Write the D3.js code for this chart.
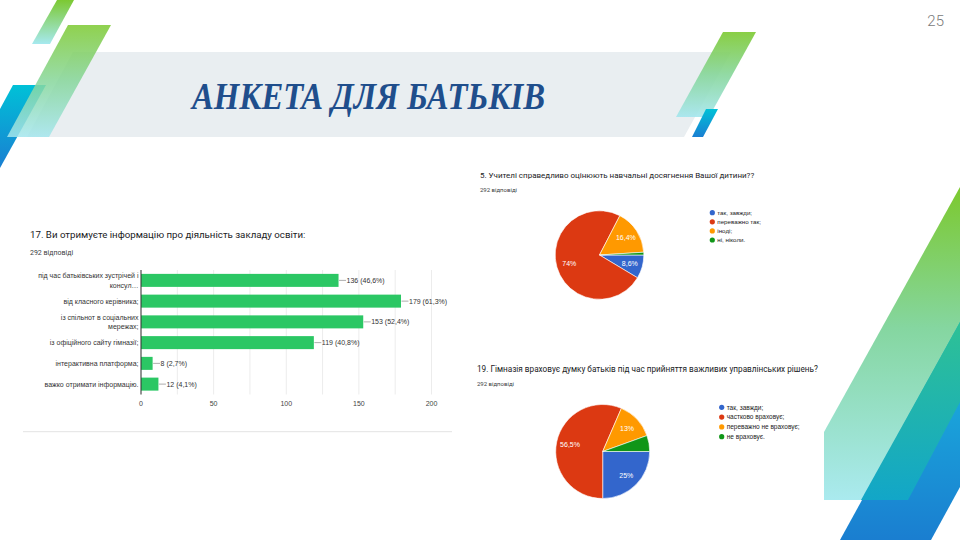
<!DOCTYPE html>
<html><head><meta charset="utf-8">
<script src="https://cdn.jsdelivr.net/npm/d3@7"></script>
<style>body{margin:0;background:#fff}svg{display:block}</style>
</head><body><svg id="c" width="960" height="540"></svg>
<script>
const slideTitle = "АНКЕТА ДЛЯ БАТЬКІВ";
const pageNumber = "25";
const responsesText = "292 відповіді";
const totalResponses = 292;

const barQuestion = "17. Ви отримуєте інформацію про діяльність закладу освіти:";
const barCategories = [
  ["під час батьківських зустрічей і", "консул…"],
  ["від класного керівника;"],
  ["із спільнот в соціальних", "мережах;"],
  ["із офіційного сайту гімназії;"],
  ["інтерактивна платформа;"],
  ["важко отримати інформацію."]
];
const barValues = [136, 179, 153, 119, 8, 12];
const barTicks = [0, 50, 100, 150, 200];

const pie1Question = "5. Учителі справедливо оцінюють навчальні досягнення Вашої дитини??";
const pie1Labels = ["так, завжди;", "переважно так;", "іноді;", "ні, ніколи."];
const pie1Values = [8.6, 74, 16.4, 1.0];

const pie2Question = "19. Гімназія враховує думку батьків під час прийняття важливих управлінських рішень?";
const pie2Labels = ["так, завжди;", "частково враховує;", "переважно не враховує;", "не враховує."];
const pie2Values = [25, 56.5, 13, 5.5];

const pieColors = ["#3366cc", "#dc3912", "#ff9900", "#109618"];

const svg = d3.select("#c");
const defs = svg.append("defs");
function grad(id, stops, y1, y2) {
  const g = defs.append("linearGradient").attr("id", id)
    .attr("gradientUnits", "userSpaceOnUse")
    .attr("x1", 0).attr("x2", 0).attr("y1", y1).attr("y2", y2);
  stops.forEach(s => g.append("stop").attr("offset", s[0]).attr("stop-color", s[1]));
}
grad("gStripeTop", [[0, "#7cc932"], [1, "#a6e9ef"]], 0, 44);
grad("gStripeBig", [[0, "#7cc930"], [0.5, "#86d69a"], [1, "#a4e6ee"]], 25, 137);
grad("gBlueLeft", [[0, "#00c1d7"], [1, "#1a7fd2"]], 85, 168);
grad("gStripeRight", [[0, "#7cc930"], [0.5, "#86d69a"], [1, "#a4e6ee"]], 32, 117);
grad("gBlueSmall", [[0, "#00c1d7"], [1, "#1a7fd2"]], 109, 137);
grad("gLightBR", [[0, "#7cc92e"], [0.45, "#85d6a0"], [1, "#aaeaef"]], 187, 500);
grad("gBlueBR", [[0, "#16b2d8"], [0.4, "#1aa3da"], [1, "#1a7ed0"]], 322, 540);
grad("gTealBR", [[0, "#2ec195"], [1, "#12a6c8"]], 322, 500);

const poly = (pts, fill, op) => svg.append("polygon")
  .attr("points", pts.map(p => p.join(",")).join(" "))
  .attr("fill", fill).attr("opacity", op == null ? 1 : op);

// title band
poly([[73, 52], [731, 52], [684, 137], [27, 137]], "#e9eef1");
// left decorations
poly([[57, 0], [74, 0], [50, 44], [32, 44]], "url(#gStripeTop)");
poly([[13, 85], [46, 85], [0, 168], [0, 109]], "url(#gBlueLeft)");
poly([[68, 25], [111, 25], [49, 137], [7, 137]], "url(#gStripeBig)", 0.85);
// right of title decorations
poly([[723, 32], [756, 32], [709, 117], [676, 117]], "url(#gStripeRight)", 0.9);
poly([[706, 109], [718, 109], [703, 137], [692, 137]], "url(#gBlueSmall)");
// bottom-right decorations
poly([[960, 187], [824, 432], [824, 500], [908, 500], [960, 402]], "url(#gLightBR)");
poly([[960, 322], [840, 540], [931, 540], [960, 487]], "url(#gBlueBR)");
poly([[960, 322], [861, 500], [908, 500], [960, 402]], "url(#gTealBR)");

// page number
svg.append("text").attr("x", 944).attr("y", 26).attr("text-anchor", "end")
  .attr("font-family", "Roboto").attr("font-weight", 300).attr("font-size", 15)
  .attr("fill", "#7a7a7a").text(pageNumber);

// slide title
svg.append("text").attr("x", 192).attr("y", 109)
  .attr("font-family", "Liberation Serif").attr("font-weight", "bold").attr("font-style", "italic")
  .attr("font-size", 37).attr("fill", "#1f4e8c")
  .attr("textLength", 353).attr("lengthAdjust", "spacingAndGlyphs").text(slideTitle);

// ---------- bar chart ----------
const fmtPct = v => {
  const r = Math.round(v * 10) / 10;
  return (Number.isInteger(r) ? String(r) : r.toFixed(1)).replace(".", ",");
};
svg.append("text").attr("x", 30).attr("y", 238).attr("font-family", "Roboto")
  .attr("font-size", 9.7).attr("fill", "#202124").text(barQuestion);
svg.append("text").attr("x", 30).attr("y", 254.5).attr("font-family", "Roboto")
  .attr("font-size", 7).attr("fill", "#3c4043").text(responsesText);

const x = d3.scaleLinear().domain([0, 200]).range([141, 431.5]);
const y = d3.scaleBand().domain(d3.range(barValues.length)).range([270, 394.5])
  .paddingInner(0.373).paddingOuter(0.187);
const bar = svg.append("g");
bar.selectAll("line.grid").data(d3.range(0, 201, 25)).join("line")
  .attr("x1", d => x(d)).attr("x2", d => x(d)).attr("y1", 270).attr("y2", 394.5)
  .attr("stroke", "#ececec").attr("stroke-width", 1);
bar.selectAll("rect").data(barValues).join("rect")
  .attr("x", x(0)).attr("y", (d, i) => y(i)).attr("width", d => x(d) - x(0))
  .attr("height", y.bandwidth()).attr("fill", "#2bc764");
bar.append("line").attr("x1", x(0)).attr("x2", x(0)).attr("y1", 270).attr("y2", 394.5)
  .attr("stroke", "#333").attr("stroke-width", 1);
bar.selectAll("text.tick").data(barTicks).join("text").attr("class", "tick")
  .attr("x", d => x(d)).attr("y", 405.5).attr("text-anchor", "middle")
  .attr("font-family", "Liberation Sans").attr("font-size", 7).attr("fill", "#444")
  .text(d => d);
barCategories.forEach((lines, i) => {
  const cy = y(i) + y.bandwidth() / 2;
  const lh = 9.6;
  lines.forEach((ln, j) => {
    bar.append("text").attr("x", 138.5)
      .attr("y", cy + 2.5 + (j - (lines.length - 1) / 2) * lh)
      .attr("text-anchor", "end").attr("font-family", "Liberation Sans")
      .attr("font-size", 7).attr("fill", "#333").text(ln);
  });
  const v = barValues[i];
  bar.append("line").attr("x1", x(v) + 0.5).attr("x2", x(v) + 7.5).attr("y1", cy).attr("y2", cy)
    .attr("stroke", "#999").attr("stroke-width", 0.8);
  bar.append("text").attr("x", x(v) + 8).attr("y", cy + 2.5)
    .attr("font-family", "Liberation Sans").attr("font-size", 7).attr("fill", "#333")
    .text(v + " (" + fmtPct(v / totalResponses * 100) + "%)");
});
svg.append("line").attr("x1", 23).attr("x2", 452).attr("y1", 431.7).attr("y2", 431.7)
  .attr("stroke", "#e3e3e3").attr("stroke-width", 1);

// ---------- pies ----------
function drawPie(cfg) {
  svg.append("text").attr("x", cfg.tx).attr("y", cfg.ty).attr("font-family", "Roboto")
    .attr("font-size", cfg.qf).attr("fill", "#202124").text(cfg.question);
  svg.append("text").attr("x", cfg.tx).attr("y", cfg.ty + 13.5).attr("font-family", "Roboto")
    .attr("font-size", 6).attr("fill", "#3c4043").text(responsesText);
  const pie = d3.pie().sort(null).startAngle(Math.PI / 2).endAngle(Math.PI / 2 + 2 * Math.PI);
  const arcs = pie(cfg.values);
  const arc = d3.arc().innerRadius(0).outerRadius(cfg.r);
  const lab = d3.arc().innerRadius(cfg.r * 0.71).outerRadius(cfg.r * 0.71);
  const g = svg.append("g").attr("transform", `translate(${cfg.cx},${cfg.cy})`);
  g.selectAll("path").data(arcs).join("path").attr("d", arc)
    .attr("fill", (d, i) => pieColors[i]).attr("stroke", "#fff").attr("stroke-width", 0.6);
  g.selectAll("text").data(arcs.filter(d => d.data >= 6)).join("text")
    .attr("transform", d => `translate(${lab.centroid(d)})`)
    .attr("dy", "0.35em").attr("text-anchor", "middle")
    .attr("font-family", "Liberation Sans").attr("font-size", 7).attr("fill", "#fff")
    .text(d => fmtPct(d.data) + "%");
  const lg = svg.append("g");
  cfg.labels.forEach((t, i) => {
    lg.append("circle").attr("cx", cfg.lx).attr("cy", cfg.ly + i * cfg.ls).attr("r", 2.6)
      .attr("fill", pieColors[i]);
    lg.append("text").attr("x", cfg.lx + 5).attr("y", cfg.ly + i * cfg.ls + 2.2)
      .attr("font-family", "Liberation Sans").attr("font-size", cfg.lf).attr("fill", "#222").text(t);
  });
}
drawPie({question: pie1Question, labels: pie1Labels, values: pie1Values, qf: 8.0,
  tx: 480, ty: 178, cx: 599.5, cy: 255, r: 44.3, lx: 712.3, ly: 212.7, ls: 9.1, lf: 6.2});
drawPie({question: pie2Question, labels: pie2Labels, values: pie2Values, qf: 8.2,
  tx: 477, ty: 372, cx: 602.7, cy: 451.5, r: 47, lx: 721.7, ly: 407.3, ls: 9.8, lf: 6.5});
</script>
</body></html>
